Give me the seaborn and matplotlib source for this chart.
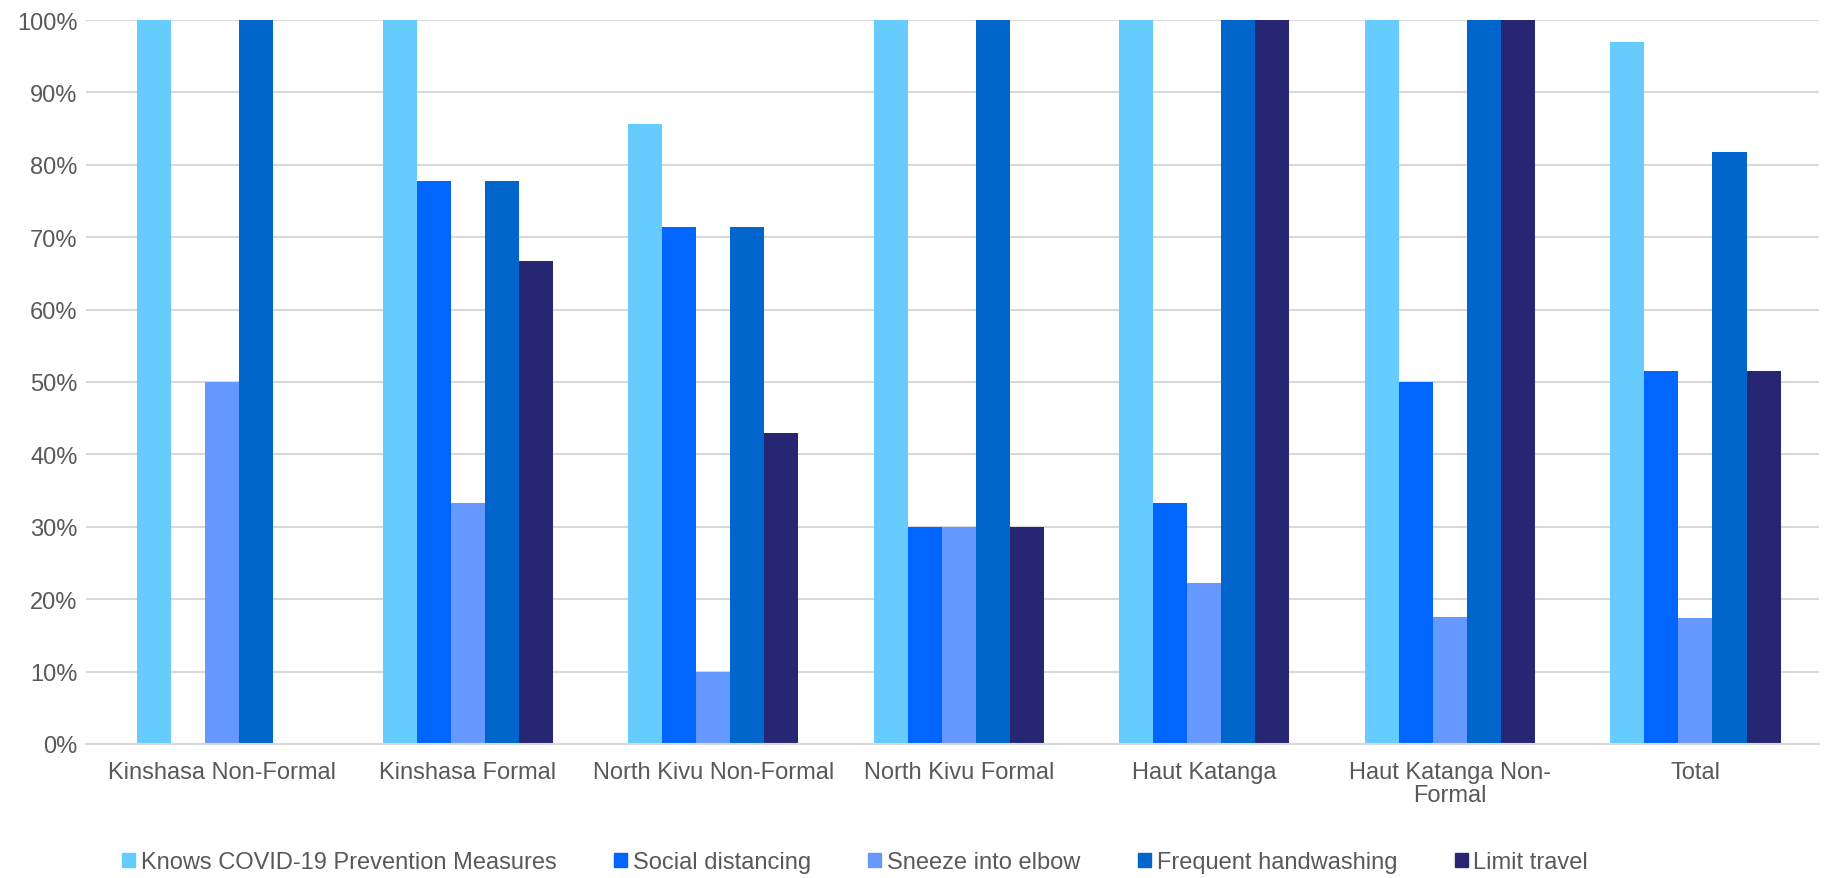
import matplotlib
matplotlib.use("Agg")
import matplotlib.pyplot as plt
from matplotlib.ticker import PercentFormatter, MultipleLocator
import seaborn as sns
import pandas as pd

categories = [
    "Kinshasa Non-Formal",
    "Kinshasa Formal",
    "North Kivu Non-Formal",
    "North Kivu Formal",
    "Haut Katanga",
    "Haut Katanga Non-\nFormal",
    "Total",
]
series_names = [
    "Knows COVID-19 Prevention Measures",
    "Social distancing",
    "Sneeze into elbow",
    "Frequent handwashing",
    "Limit travel",
]
knows = [100, 100, 85.7, 100, 100, 100, 97.0]
social = [0, 77.8, 71.4, 30.0, 33.3, 50.0, 51.5]
sneeze = [50.0, 33.3, 10.0, 30.0, 22.2, 17.6, 17.4]
handwash = [100, 77.8, 71.4, 100, 100, 100, 81.8]
travel = [0, 66.7, 42.9, 30.0, 100, 100, 51.5]

colors = ["#66CCFF", "#0066FF", "#6699FF", "#0066CC", "#262673"]

rows = []
for name, vals in zip(series_names, [knows, social, sneeze, handwash, travel]):
    for cat, v in zip(categories, vals):
        rows.append({"category": cat, "measure": name, "pct": v})
df = pd.DataFrame(rows)

sns.set_style("white")
plt.rcParams["font.family"] = ["Liberation Sans", "DejaVu Sans"]

fig = plt.figure(figsize=(18.27, 8.79), dpi=100)
ax = fig.add_axes([86 / 1827, 1 - 745 / 879, 1733 / 1827, 724 / 879])

sns.barplot(
    data=df, x="category", y="pct", hue="measure",
    order=categories, hue_order=series_names,
    palette=colors, width=0.693, gap=0, saturation=1,
    edgecolor="none", linewidth=0, errorbar=None, ax=ax,
)

ax.set_ylim(0, 100)
ax.set_xlim(-0.554, 6.503)
ax.yaxis.set_major_locator(MultipleLocator(10))
ax.yaxis.set_major_formatter(PercentFormatter(decimals=0))
ax.grid(axis="y", color="#D9D9D9", linewidth=1.5)
ax.set_axisbelow(True)
for side in ["top", "right", "left"]:
    ax.spines[side].set_visible(False)
ax.spines["bottom"].set_color("#D9D9D9")
ax.spines["bottom"].set_linewidth(1.5)
ax.set_xlabel("")
ax.set_ylabel("")
ax.tick_params(axis="both", length=0, labelsize=17, labelcolor="#595959")
ax.tick_params(axis="x", pad=12)
ax.tick_params(axis="y", pad=6)
for lbl in ax.get_xticklabels():
    lbl.set_linespacing(1.05)

ax.get_legend().remove()
handles = [plt.Rectangle((0, 0), 1, 1, color=c) for c in colors]
fig.legend(
    handles, series_names, loc="center", bbox_to_anchor=(855 / 1827, 1 - 863 / 879),
    ncol=5, frameon=False, fontsize=17, labelcolor="#595959",
    handlelength=0.55, handleheight=0.55, handletextpad=0.25, columnspacing=2.43,
)

fig.savefig("out.png", dpi=100, facecolor="white")
